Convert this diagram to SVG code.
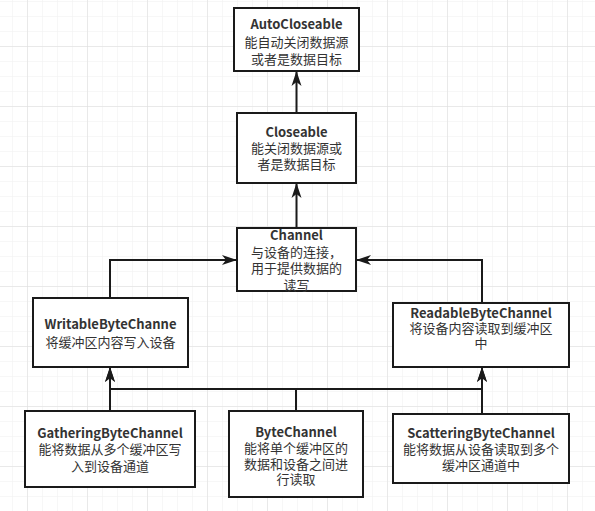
<svg xmlns="http://www.w3.org/2000/svg" width="595" height="511" viewBox="0 0 595 511">
<defs>
<pattern id="minor" patternUnits="userSpaceOnUse" x="12" y="1" width="15" height="15">
<path d="M0,0 H15 M0,0 V15" stroke="#f0f0f0" stroke-width="1" fill="none"/>
</pattern>
<pattern id="major" patternUnits="userSpaceOnUse" x="27" y="46" width="60" height="60">
<path d="M0,0 H60 M0,0 V60" stroke="#dcdcdc" stroke-width="1" fill="none"/>
</pattern>
<marker id="arr" markerUnits="userSpaceOnUse" markerWidth="16" markerHeight="12" refX="15" refY="5.5" orient="auto" viewBox="0 0 16 11">
<path d="M0,0.5 L15,5.5 L0,10.5 L4,5.5 Z" fill="#1a1a1a"/>
</marker>
<style>
.box{fill:#fff;stroke:#1a1a1a;stroke-width:2}
.t{font-family:"Noto Sans CJK SC","Noto Sans",sans-serif;font-size:13px;fill:#333;text-anchor:middle}
.b{font-weight:bold}
.c{fill:none;stroke:#1a1a1a;stroke-width:2}
</style>
</defs>
<rect width="595" height="511" fill="#fff"/>
<rect width="595" height="511" fill="url(#minor)"/>
<rect width="595" height="511" fill="url(#major)"/>
<g id="connectors">
<path class="c" d="M296.5,113 V71" marker-end="url(#arr)"/>
<path class="c" d="M296.5,228 V183" marker-end="url(#arr)"/>
<path class="c" d="M110,298 V260 H237" marker-end="url(#arr)"/>
<path class="c" d="M482,303 V260 H356" marker-end="url(#arr)"/>
<path class="c" d="M110,411 V367" marker-end="url(#arr)"/>
<path class="c" d="M482,414 V367" marker-end="url(#arr)"/>
<path class="c" d="M296,411 V389 H110 V367" marker-end="url(#arr)"/>
<path class="c" d="M296,411 V389 H482 V367" marker-end="url(#arr)"/>
</g>
<g id="autocloseable">
<rect class="box" x="234" y="8" width="125" height="63"/>
<text class="t b" x="296.5" y="28.5">AutoCloseable</text>
<text class="t" x="296.5" y="46.5">能自动关闭数据源</text>
<text class="t" x="296.5" y="63.5">或者是数据目标</text>
</g>
<g id="closeable">
<rect class="box" x="237" y="113" width="119" height="70"/>
<text class="t b" x="296.5" y="136.5">Closeable</text>
<text class="t" x="296.5" y="153">能关闭数据源或</text>
<text class="t" x="296.5" y="169">者是数据目标</text>
</g>
<g id="channel">
<rect class="box" x="237" y="228" width="119" height="63"/>
<text class="t b" x="296.5" y="240">Channel</text>
<text class="t" x="296.5" y="256.5">与设备的连接，</text>
<text class="t" x="296.5" y="273">用于提供数据的</text>
<text class="t" x="296.5" y="290">读写</text>
</g>
<g id="writable">
<rect class="box" x="33" y="298" width="155" height="69"/>
<text class="t b" x="110.5" y="329">WritableByteChanne</text>
<text class="t" x="110.5" y="346.5">将缓冲区内容写入设备</text>
</g>
<g id="readable">
<rect class="box" x="393" y="303" width="176" height="64"/>
<text class="t b" x="481" y="317.5">ReadableByteChannel</text>
<text class="t" x="481" y="333">将设备内容读取到缓冲区</text>
<text class="t" x="481" y="348">中</text>
</g>
<g id="gathering">
<rect class="box" x="25" y="411" width="170" height="76"/>
<text class="t b" x="110" y="437.5">GatheringByteChannel</text>
<text class="t" x="110" y="454">能将数据从多个缓冲区写</text>
<text class="t" x="110" y="471">入到设备通道</text>
</g>
<g id="bytechannel">
<rect class="box" x="229" y="411" width="134" height="86"/>
<text class="t b" x="296" y="436.5">ByteChannel</text>
<text class="t" x="296" y="452.5">能将单个缓冲区的</text>
<text class="t" x="296" y="468.5">数据和设备之间进</text>
<text class="t" x="296" y="484">行读取</text>
</g>
<g id="scattering">
<rect class="box" x="393" y="414" width="176" height="69"/>
<text class="t b" x="481" y="437.5">ScatteringByteChannel</text>
<text class="t" x="481" y="453.5">能将数据从设备读取到多个</text>
<text class="t" x="481" y="469.5">缓冲区通道中</text>
</g>
</svg>
